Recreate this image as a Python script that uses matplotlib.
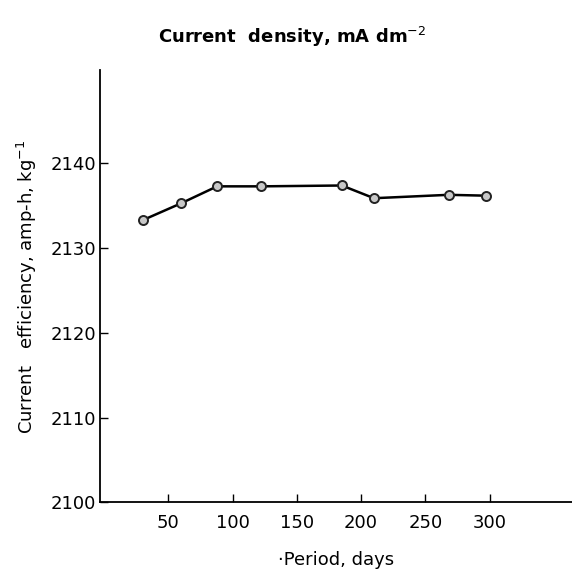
import matplotlib.pyplot as plt
import numpy as np

# periodo en dias y eficiencia de corriente
days = np.array([30, 60, 88, 122, 185, 210, 268, 297])
efficiency = np.array([2133.3, 2135.3, 2137.3, 2137.3, 2137.4, 2135.9, 2136.3, 2136.2])

xticks = [50, 100, 150, 200, 250, 300]
yticks = [2100, 2110, 2120, 2130, 2140]

fig = plt.figure(figsize=(5.72, 5.71), dpi=100)
ax = fig.add_axes([0.175, 0.12, 0.825, 0.757])

ax.plot(days, efficiency, color='black', linewidth=1.8,
        marker='o', markersize=6.5, markerfacecolor='#c8c8c8',
        markeredgecolor='#222222', markeredgewidth=1.4)

ax.set_xlim(-3, 364)
ax.set_ylim(2100, 2151)
ax.set_xticks(xticks)
ax.set_yticks(yticks)
ax.tick_params(direction='in', length=6, width=1, labelsize=13, pad=3)
ax.tick_params(axis='x', pad=8)

for s in ['top', 'right']:
    ax.spines[s].set_visible(False)
for s in ['left', 'bottom']:
    ax.spines[s].set_linewidth(1.3)

ax.set_xlabel('·Period, days', fontsize=13, labelpad=14)
ax.set_ylabel('Current   efficiency, amp-h, kg$^{-1}$', fontsize=13, labelpad=8)
fig.text(0.51, 0.925, 'Current  density, mA dm$^{-2}$', ha='center',
         fontsize=13, fontweight='bold')

fig.savefig('out.png', dpi=100)
